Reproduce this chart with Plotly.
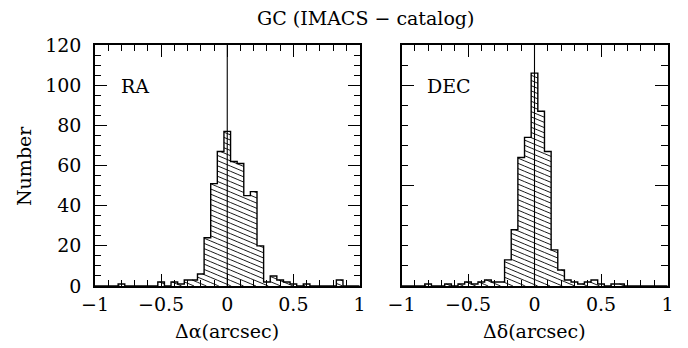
import numpy as np
import plotly.graph_objects as go

# ---------------- data ----------------
bin_width = 0.05
bin_centers = [round(-1.0 + 0.05 * i, 2) for i in range(41)]

ra_counts = [0, 0, 0, 0, 1, 0, 0, 0, 0, 0,
             2, 0, 2, 1, 3, 3, 6, 24, 51, 67,
             77, 62, 61, 45, 47, 20, 2, 5, 3, 2,
             1, 0, 1, 0, 0, 0, 0, 3, 0, 0, 0]

dec_counts = [0, 0, 0, 0, 1, 0, 0, 1, 0, 1,
              2, 1, 2, 3, 2, 2, 13, 28, 64, 74,
              106, 87, 67, 18, 8, 3, 2, 1, 2, 3,
              1, 0, 1, 1, 0, 0, 0, 0, 0, 0, 0]

panel_labels = ["RA", "DEC"]
x_titles = ["Δα(arcsec)", "Δδ(arcsec)"]
y_title = "Number"
title_text = "GC (IMACS − catalog)"
x_ticks = [-1, -0.5, 0, 0.5, 1]

# ---------------- layout geometry ----------------
W, H = 688, 348
left_dom = [95 / W, 359.5 / W]
right_dom = [401.5 / W, 667.5 / W]
y_dom = [1 - 286 / H, 1 - 45 / H]
FONT = "DejaVu Serif"

fig = go.Figure()


def add_hist(counts, xa, ya, dom):
    edges = [c - bin_width / 2 for c in bin_centers] + [bin_centers[-1] + bin_width / 2]
    # hatch lines (computed from data, in data units)
    wpx = (dom[1] - dom[0]) * W
    hpx = (y_dom[1] - y_dom[0]) * H
    px_x = wpx / 2.0
    px_y = hpx / 120.0
    s = 0.42 * px_x / px_y
    dc = 5.2 / px_y
    hx, hy = [], []
    cs = np.arange(-s - 2 * dc, 120 + s + dc, dc)
    for c in cs:
        for i, h in enumerate(counts):
            if h <= 0:
                continue
            x0, x1 = edges[i], edges[i + 1]
            lo = max(x0, (c - h) / s)
            hi = min(x1, c / s)
            if lo < hi:
                hx += [lo, hi, None]
                hy += [c - s * lo, c - s * hi, None]
    fig.add_trace(go.Scatter(x=hx, y=hy, mode="lines", line=dict(color="black", width=0.9),
                             xaxis=xa, yaxis=ya, hoverinfo="skip", showlegend=False))
    # step outline
    ox = [edges[0]] + edges
    oy = [0] + list(counts) + [0]
    fig.add_trace(go.Scatter(x=ox, y=oy, mode="lines", line=dict(color="black", width=1.4, shape="hv"),
                             xaxis=xa, yaxis=ya, hoverinfo="skip", showlegend=False))


add_hist(ra_counts, "x", "y", left_dom)
add_hist(dec_counts, "x2", "y2", right_dom)

axis_common = dict(showgrid=False, zeroline=False, showline=True, linecolor="black", linewidth=1.5,
                   mirror="allticks", ticks="inside", tickcolor="black", tickwidth=1,
                   automargin=False,
                   tickfont=dict(family=FONT, size=19, color="black"))

fig.update_layout(
    template="none",
    width=W, height=H, autosize=False,
    margin=dict(l=0, r=0, t=0, b=0, pad=0),
    paper_bgcolor="white", plot_bgcolor="white",
    showlegend=False,
    xaxis=dict(domain=left_dom, range=[-1, 1], anchor="y", tickvals=x_ticks, ticklen=12,
               minor=dict(dtick=0.1, tick0=0, ticks="inside", ticklen=6, tickcolor="black", tickwidth=1),
               ticklabelstandoff=0, **axis_common),
    yaxis=dict(domain=y_dom, range=[0, 120], anchor="x", dtick=20, tick0=0, ticklen=12,
               minor=dict(dtick=5, tick0=0, ticks="inside", ticklen=6, tickcolor="black", tickwidth=1),
               ticklabelstandoff=8, **axis_common),
    xaxis2=dict(domain=right_dom, range=[-1, 1], anchor="y2", tickvals=x_ticks, ticklen=12,
                minor=dict(dtick=0.1, tick0=0, ticks="inside", ticklen=6, tickcolor="black", tickwidth=1),
                ticklabelstandoff=0, **axis_common),
    yaxis2=dict(domain=y_dom, range=[0, 120], anchor="x2", dtick=50, tick0=0, ticklen=13,
                minor=dict(dtick=10, tick0=0, ticks="inside", ticklen=7, tickcolor="black", tickwidth=1),
                showticklabels=False, **axis_common),
)

# zero reference lines
for xr, yr in (("x", "y domain"), ("x2", "y2 domain")):
    fig.add_shape(type="line", xref=xr, yref=yr, x0=0, x1=0, y0=0, y1=1,
                  line=dict(color="black", width=1.1))

# panel labels
for lab, xr, yr in ((panel_labels[0], "x", "y"), (panel_labels[1], "x2", "y2")):
    fig.add_annotation(text=lab, xref=xr + " domain", yref=yr + " domain", x=0.09, y=0.83,
                       xanchor="left", yanchor="middle", showarrow=False,
                       font=dict(family=FONT, size=19, color="black"))

# x-axis titles
for t, dom in ((x_titles[0], left_dom), (x_titles[1], right_dom)):
    fig.add_annotation(text=t, xref="paper", yref="paper", x=(dom[0] + dom[1]) / 2, y=1 - 331 / H,
                       xanchor="center", yanchor="middle", showarrow=False,
                       font=dict(family=FONT, size=19, color="black"))

# y-axis title
fig.add_annotation(text=y_title, xref="paper", yref="paper", x=24 / W, y=1 - 166 / H, textangle=-90,
                   xanchor="center", yanchor="middle", showarrow=False,
                   font=dict(family=FONT, size=19, color="black"))

# overall title
fig.add_annotation(text=title_text, xref="paper", yref="paper", x=366 / W, y=1 - 18 / H,
                   xanchor="center", yanchor="middle", showarrow=False,
                   font=dict(family=FONT, size=19, color="black"))

fig.write_html("out.html")
